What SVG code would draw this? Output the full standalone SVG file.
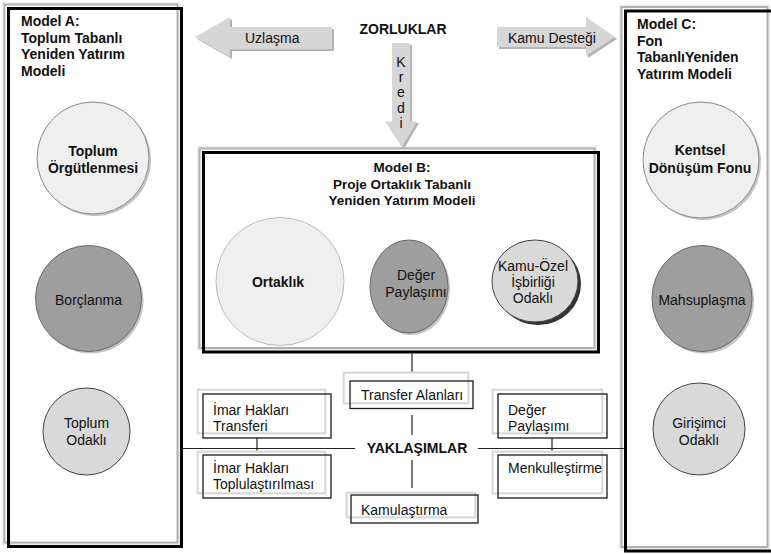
<svg xmlns="http://www.w3.org/2000/svg" width="771" height="554" viewBox="0 0 771 554">
<defs>
<style>
text{font-family:"Liberation Sans",Arial,sans-serif;fill:#111;}
.t{font-size:14px;}
.b{font-size:14px;font-weight:bold;}
.h{font-size:14px;font-weight:bold;}
.hb{font-size:13.5px;font-weight:bold;}
.halo{fill:none;stroke:#ececec;stroke-width:5;}
.gf{fill:#fff;stroke:#b0b0b0;stroke-width:2;}
.blk{fill:none;stroke:#000;stroke-width:3;}
.sh{fill:none;stroke:#e4e4e4;stroke-width:3;}
.sg{fill:#fff;stroke:#c8c8c8;stroke-width:1;}
.sb{fill:none;stroke:#1a1a1a;stroke-width:1.3;}
.arr{fill:#d6d6d6;}
.arrs{fill:#b5b5b5;}
.c1{fill:#efefef;stroke:#8a8a8a;stroke-width:1;}
.c2{fill:#9e9e9e;stroke:#6a6a6a;stroke-width:1;}
.c3{fill:#d9d9d9;stroke:#444;stroke-width:1;}
.cs{fill:#c4c4c4;}
.ln{stroke:#222;stroke-width:1.2;fill:none;}
</style>
</defs>
<rect width="771" height="554" fill="#fff"/>

<!-- Model A -->
<g id="modelA">
<rect class="halo" x="4.5" y="4.5" width="173" height="538"/>
<rect class="gf" x="4.5" y="4.5" width="173" height="538"/>
<rect class="blk" x="8.5" y="8.5" width="173" height="538"/>
<text class="h" x="21" y="26">Model A:</text>
<text class="h" x="21" y="42.5">Toplum Tabanlı</text>
<text class="h" x="21" y="59">Yeniden Yatırım</text>
<text class="h" x="21" y="75.5">Modeli</text>
</g>
<g id="a1">
<circle class="cs" cx="95" cy="160" r="56"/>
<circle class="c1" cx="93" cy="158" r="56"/>
<text class="b" x="93" y="156" text-anchor="middle">Toplum</text>
<text class="b" x="93" y="173" text-anchor="middle">Örgütlenmesi</text>
</g>
<g id="a2">
<circle class="cs" cx="90.5" cy="300.5" r="53"/>
<circle class="c2" cx="88.5" cy="298.5" r="53"/>
<text class="t" x="88.5" y="305" text-anchor="middle">Borçlanma</text>
</g>
<g id="a3">
<circle class="c3" cx="86.5" cy="431.5" r="43.5"/>
<text class="t" x="86.5" y="428" text-anchor="middle">Toplum</text>
<text class="t" x="86.5" y="445" text-anchor="middle">Odaklı</text>
</g>

<!-- Model C -->
<g id="modelC">
<rect class="halo" x="621.5" y="7" width="146" height="540"/>
<rect class="gf" x="621.5" y="7" width="146" height="540"/>
<rect class="blk" x="625.5" y="11" width="150" height="540"/>
<text class="h" x="637" y="29">Model C:</text>
<text class="h" x="637" y="45.5">Fon</text>
<text class="h" x="637" y="62">TabanlıYeniden</text>
<text class="h" x="637" y="78.5">Yatırım Modeli</text>
</g>
<g id="c1">
<circle class="cs" cx="703" cy="162" r="58"/>
<circle class="c1" cx="701" cy="160" r="58"/>
<text class="b" x="700" y="155" text-anchor="middle">Kentsel</text>
<text class="b" x="700" y="173" text-anchor="middle">Dönüşüm Fonu</text>
</g>
<g id="c2">
<ellipse class="cs" cx="704" cy="300.5" rx="50" ry="53"/>
<ellipse class="c2" cx="702" cy="298.5" rx="50" ry="53"/>
<text class="t" x="702" y="305" text-anchor="middle">Mahsuplaşma</text>
</g>
<g id="c3">
<ellipse class="c3" cx="699" cy="429" rx="46" ry="46"/>
<text class="t" x="699" y="428" text-anchor="middle">Girişimci</text>
<text class="t" x="699" y="445" text-anchor="middle">Odaklı</text>
</g>

<!-- Model B -->
<g id="modelB">
<rect class="halo" x="199.5" y="148.5" width="395" height="199.5"/>
<rect class="gf" x="199.5" y="148.5" width="395" height="199.5"/>
<rect class="blk" x="203.5" y="152.5" width="395" height="199.5"/>
<text class="hb" x="402" y="172" text-anchor="middle">Model B:</text>
<text class="hb" x="402" y="188.5" text-anchor="middle">Proje Ortaklık Tabanlı</text>
<text class="hb" x="402" y="205" text-anchor="middle">Yeniden Yatırım Modeli</text>
</g>
<g id="b1">
<circle class="c1" cx="280" cy="281.5" r="64" style="stroke:#bbb"/>
<text class="b" x="278" y="287" text-anchor="middle">Ortaklık</text>
</g>
<g id="b2">
<ellipse class="cs" cx="411" cy="288.5" rx="39" ry="46.5"/>
<ellipse class="c2" cx="409" cy="286.5" rx="39" ry="46.5"/>
<text class="t" x="416" y="280" text-anchor="middle">Değer</text>
<text class="t" x="416" y="297" text-anchor="middle">Paylaşımı</text>
</g>
<g id="b3">
<ellipse cx="538" cy="284" rx="43" ry="41" fill="#333"/>
<ellipse class="c3" cx="535" cy="281" rx="43" ry="41"/>
<text class="t" x="533" y="271" text-anchor="middle">Kamu-Özel</text>
<text class="t" x="533" y="287" text-anchor="middle">İşbirliği</text>
<text class="t" x="533" y="303" text-anchor="middle">Odaklı</text>
</g>

<!-- ZORLUKLAR and arrows -->
<g id="zorluklar">
<text class="b" x="403" y="34" text-anchor="middle">ZORLUKLAR</text>
</g>
<g id="uzlasma">
<polygon class="arrs" points="197,39 232,19 232,29 334,29 334,51 232,51 232,59"/>
<polygon class="arr" points="195,37 230,17 230,27 332,27 332,49 230,49 230,57"/>
<text class="t" x="245" y="43">Uzlaşma</text>
</g>
<g id="kamuDestegi">
<polygon class="arrs" points="499,29 588,29 588,19 617,39 588,58 588,49 499,49"/>
<polygon class="arr" points="497,27 586,27 586,17 615,37 586,56 586,47 497,47"/>
<text class="t" x="508" y="43">Kamu Desteği</text>
</g>
<g id="kredi">
<polygon class="arrs" points="394,45 412,45 412,123 419,123 404,149 387,123 394,123"/>
<polygon class="arr" points="392,43 410,43 410,121.5 417,121.5 402,147 385,121.5 392,121.5"/>
<text class="t" x="401" y="66.5" text-anchor="middle">K</text>
<text class="t" x="401" y="81.5" text-anchor="middle">r</text>
<text class="t" x="401" y="96.5" text-anchor="middle">e</text>
<text class="t" x="401" y="112.5" text-anchor="middle">d</text>
<text class="t" x="401" y="128" text-anchor="middle">i</text>
</g>

<!-- connectors -->
<g id="connectors">
<line class="ln" x1="412" y1="353.5" x2="412" y2="373"/>
<line class="ln" x1="412" y1="415" x2="412" y2="435"/>
<line class="ln" x1="412" y1="460" x2="412" y2="488"/>
<line class="ln" x1="183" y1="448.5" x2="355" y2="448.5"/>
<line class="ln" x1="478" y1="448.5" x2="624" y2="448.5"/>
<line class="ln" x1="257" y1="438" x2="257" y2="455"/>
<line class="ln" x1="552" y1="438" x2="552" y2="455"/>
</g>

<g id="yaklasimlar">
<text class="b" x="417" y="453" text-anchor="middle">YAKLAŞIMLAR</text>
</g>

<!-- small boxes -->
<g id="transferAlanlari">
<rect class="sh" x="344" y="373" width="124" height="30"/>
<rect class="sg" x="344" y="373" width="124" height="30"/>
<rect class="sb" x="350" y="381" width="123" height="27.5"/>
<text class="t" x="361" y="400">Transfer Alanları</text>
</g>
<g id="imarTransfer">
<rect class="sh" x="198" y="390" width="127" height="43"/>
<rect class="sg" x="198" y="390" width="127" height="43"/>
<rect class="sb" x="203" y="394" width="128" height="44"/>
<text class="t" x="213" y="415">İmar Hakları</text>
<text class="t" x="213" y="431">Transferi</text>
</g>
<g id="imarToplu">
<rect class="sh" x="198" y="452" width="127" height="41"/>
<rect class="sg" x="198" y="452" width="127" height="41"/>
<rect class="sb" x="203" y="455" width="128" height="43"/>
<text class="t" x="213" y="473">İmar Hakları</text>
<text class="t" x="213" y="489">Toplulaştırılması</text>
</g>
<g id="degerPaylasimi">
<rect class="sh" x="493" y="390" width="109" height="43"/>
<rect class="sg" x="493" y="390" width="109" height="43"/>
<rect class="sb" x="498" y="394" width="109" height="44"/>
<text class="t" x="508" y="415">Değer</text>
<text class="t" x="508" y="431">Paylaşımı</text>
</g>
<g id="menkul">
<rect class="sh" x="493" y="452" width="109" height="41"/>
<rect class="sg" x="493" y="452" width="109" height="41"/>
<rect class="sb" x="498" y="455" width="109" height="43"/>
<text class="t" x="508" y="473">Menkulleştirme</text>
</g>
<g id="kamulastirma">
<rect class="sh" x="347" y="493" width="128" height="24"/>
<rect class="sg" x="347" y="493" width="128" height="24"/>
<rect class="sb" x="351" y="495" width="127" height="28"/>
<text class="t" x="361" y="515">Kamulaştırma</text>
</g>
</svg>
